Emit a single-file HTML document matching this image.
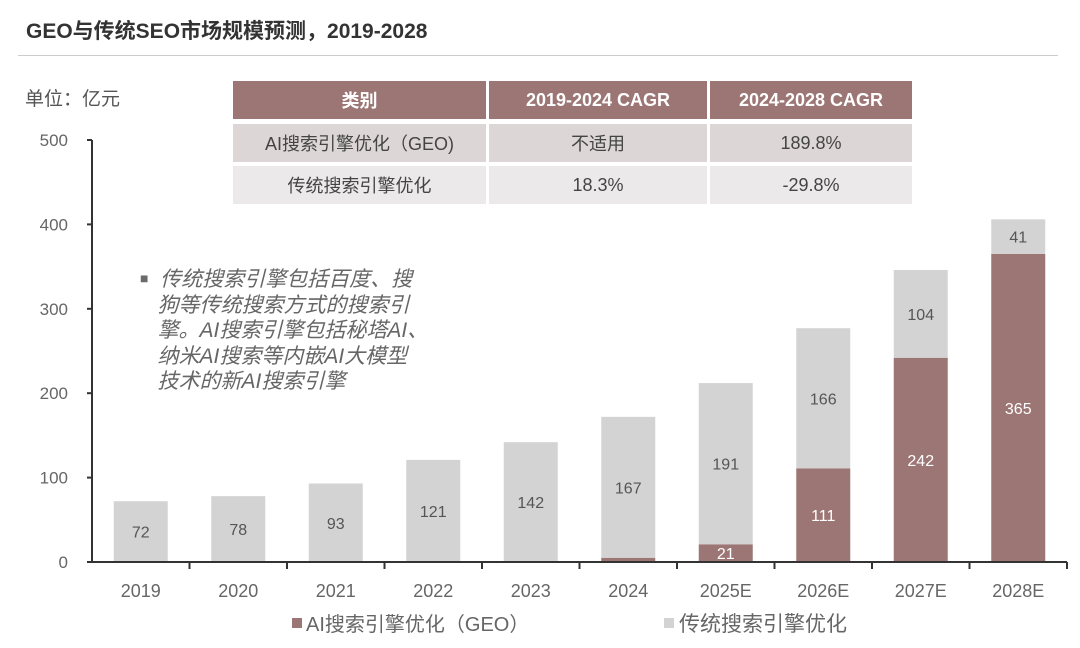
<!DOCTYPE html>
<html><head><meta charset="utf-8"><style>
body{margin:0;background:#fff;font-family:"Liberation Sans","Noto Sans CJK SC",sans-serif;}
#wrap{position:relative;width:1080px;height:648px;overflow:hidden;}
.t{position:absolute;white-space:nowrap;}
.cell{position:absolute;display:flex;align-items:center;justify-content:center;font-size:18px;color:#444;}
.hd{background:#9c7674;color:#fff;font-weight:bold;}
.r1{background:#ddd6d6;}
.r2{background:#ebe9e9;}
</style></head><body>
<div id="wrap">
<div class="t" style="left:26px;top:15px;font-size:21px;font-weight:bold;color:#333;">GEO与传统SEO市场规模预测，2019-2028</div>
<div style="position:absolute;left:18px;top:55px;width:1040px;height:1px;background:#ccc;"></div>
<div class="t" style="left:25px;top:84px;font-size:19px;color:#555;">单位：亿元</div>
<div class="t" style="left:140px;top:266px;font-size:21px;color:#666;font-style:italic;line-height:25.5px;white-space:normal;width:320px;"><span style="font-style:normal;color:#6b6b6b;font-size:14px;vertical-align:3px;">■</span>&nbsp; 传统搜索引擎包括百度、搜<br>&nbsp;&nbsp;&nbsp;狗等传统搜索方式的搜索引<br>&nbsp;&nbsp;&nbsp;擎。AI搜索引擎包括秘塔AI、<br>&nbsp;&nbsp;&nbsp;纳米AI搜索等内嵌AI大模型<br>&nbsp;&nbsp;&nbsp;技术的新AI搜索引擎</div>
<div>
<div class="cell hd" style="left:233px;top:81px;width:253px;height:38px;">类别</div>
<div class="cell hd" style="left:489px;top:81px;width:218px;height:38px;">2019-2024 CAGR</div>
<div class="cell hd" style="left:710px;top:81px;width:202px;height:38px;">2024-2028 CAGR</div>
<div class="cell r1" style="left:233px;top:124px;width:253px;height:38px;">AI搜索引擎优化（GEO)</div>
<div class="cell r1" style="left:489px;top:124px;width:218px;height:38px;">不适用</div>
<div class="cell r1" style="left:710px;top:124px;width:202px;height:38px;">189.8%</div>
<div class="cell r2" style="left:233px;top:166px;width:253px;height:38px;">传统搜索引擎优化</div>
<div class="cell r2" style="left:489px;top:166px;width:218px;height:38px;">18.3%</div>
<div class="cell r2" style="left:710px;top:166px;width:202px;height:38px;">-29.8%</div>
</div>
<svg id="chart" width="1080" height="648" style="position:absolute;left:0;top:0;"></svg>
</div>
<script>
const categories=["2019","2020","2021","2022","2023","2024","2025E","2026E","2027E","2028E"];
const geoValues=[0,0,0,0,0,5,21,111,242,365];
const seoValues=[72,78,93,121,142,167,191,166,104,41];
const yTicks=[0,100,200,300,400,500];
const svg=document.getElementById('chart');
const NS="http://www.w3.org/2000/svg";
const x0=92,x1=1067,yBase=562,yTop=140,yMax=500;
const step=(x1-x0)/categories.length,bw=54;
function y(v){return yBase-(v/yMax)*(yBase-yTop);}
function xc(i){return x0+step*(i+0.5);}
function mk(tag,a){const e=document.createElementNS(NS,tag);for(const k in a)e.setAttribute(k,a[k]);svg.appendChild(e);return e;}
function txt(s,a){const e=mk('text',a);e.textContent=s;return e;}
yTicks.forEach(v=>{
 const t=txt(String(v),{x:68,y:y(v)+6,'text-anchor':'end','font-size':17,fill:'#666'});
 
 
 const l=mk('line',{x1:x0-5,x2:x0,y1:y(v),y2:y(v),stroke:'#333','stroke-width':2});
 
 
});
categories.forEach((c,i)=>{
 const cx=xc(i);
 const g=geoValues[i],s=seoValues[i];
 if(g>0){
  const r=mk('rect',{x:cx-bw/2,y:y(g),width:bw,height:yBase-y(g),fill:'#9c7674'});
  
  
  if(g>=15){
   const t=txt(String(g),{x:cx,y:(y(g)+yBase)/2+6,'text-anchor':'middle','font-size':16,fill:'#fff'});
   
   
  }
 }
 const r2=mk('rect',{x:cx-bw/2,y:y(g+s),width:bw,height:y(g)-y(g+s),fill:'#d3d3d3'});
 
 
 const t2=txt(String(s),{x:cx,y:(y(g)+y(g+s))/2+6,'text-anchor':'middle','font-size':16,fill:'#555'});
 
 
 const xl=txt(c,{x:cx,y:597,'text-anchor':'middle','font-size':18,fill:'#666'});
 
 
 const tk=mk('line',{x1:x0+step*(i+1),x2:x0+step*(i+1),y1:yBase,y2:yBase+7,stroke:'#333','stroke-width':2});
 
 
});
const ya=mk('line',{x1:x0,x2:x0,y1:yTop,y2:yBase,stroke:'#333','stroke-width':2});


const xa=mk('line',{x1:x0,x2:x1,y1:yBase,y2:yBase,stroke:'#333','stroke-width':2});


const lg1=mk('rect',{x:292,y:618,width:10,height:10,fill:'#9c7674'});


const lt1=txt('AI搜索引擎优化（GEO）',{x:306,y:631,'font-size':20,fill:'#666'});


const lg2=mk('rect',{x:664,y:618,width:10,height:10,fill:'#d3d3d3'});


const lt2=txt('传统搜索引擎优化',{x:679,y:631,'font-size':21,fill:'#666'});


</script>
</body></html>
